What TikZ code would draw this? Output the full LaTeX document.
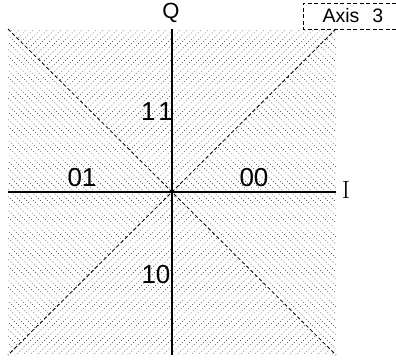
\documentclass[tikz,border=0pt]{standalone}
\usepackage{fontspec}
\setsansfont{Liberation Sans}
\begin{document}
\begin{tikzpicture}[x=1pt,y=1pt,
  hatch/.style={draw=black!80,line width=0.65pt,dash pattern=on 0.8pt off 2.2pt},
  diag/.style={draw=black,line width=0.8pt,dash pattern=on 3.5pt off 2.5pt},
  axisline/.style={draw=black,line width=1.1pt},
  lbl/.style={font=\sffamily\fontsize{26}{26}\selectfont,inner sep=0pt},
  ttl/.style={font=\sffamily\fontsize{19.5}{20}\selectfont,inner sep=0pt}]
\useasboundingbox (0,0) rectangle (396,360);
\begin{scope}[shift={(172,168)}]
  \coordinate (o) at (0,0);
  \coordinate (tl) at (-164,163);
  \coordinate (tr) at (164,163);
  \coordinate (bl) at (-164,-163);
  \coordinate (br) at (164,-163);
  \coordinate (top) at (0,163);
  \coordinate (bot) at (0,-163);
  \coordinate (lft) at (-164,0);
  \coordinate (rgt) at (164,0);
  % top and bottom triangles: / hatching
  \begin{scope}
    \clip (o) -- (tl) -- (tr) -- cycle (o) -- (bl) -- (br) -- cycle;
    \foreach \c in {-336,-329,...,336}
      \draw[hatch] (\c-170,-170) -- (\c+170,170);
  \end{scope}
  % left and right triangles: \ hatching
  \begin{scope}
    \clip (o) -- (tl) -- (bl) -- cycle (o) -- (tr) -- (br) -- cycle;
    \foreach \c in {-336,-329,...,336}
      \draw[hatch] (\c-170,170) -- (\c+170,-170);
  \end{scope}
  \draw[diag] (tl) -- (o) -- (br);
  \draw[diag] (tr) -- (o) -- (bl);
  \draw[axisline] (lft) -- (rgt);
  \draw[axisline] (bot) -- (top);
  \node[lbl] (l11) at (-15,80) {1\kern3pt1};
  \node[lbl] (l01) at (-90,14) {01};
  \node[lbl] (l00) at (82,14) {00};
  \node[lbl] (l10) at (-16,-83) {10};
  \node[font=\sffamily\fontsize{22}{22}\selectfont,inner sep=0pt,anchor=south] (q) at (-1,169) {Q};
  \node[font=\fontsize{25}{25}\selectfont,inner sep=0pt] (i) at (174,2) {I};
\end{scope}
\node[ttl] (ax) at (353,344) {Axis\hspace{13pt}3};
\draw[line width=0.6pt,dash pattern=on 4pt off 2.5pt] (396,357) -- (303,357) -- (303,331) -- (396,331);
\end{tikzpicture}
\end{document}
